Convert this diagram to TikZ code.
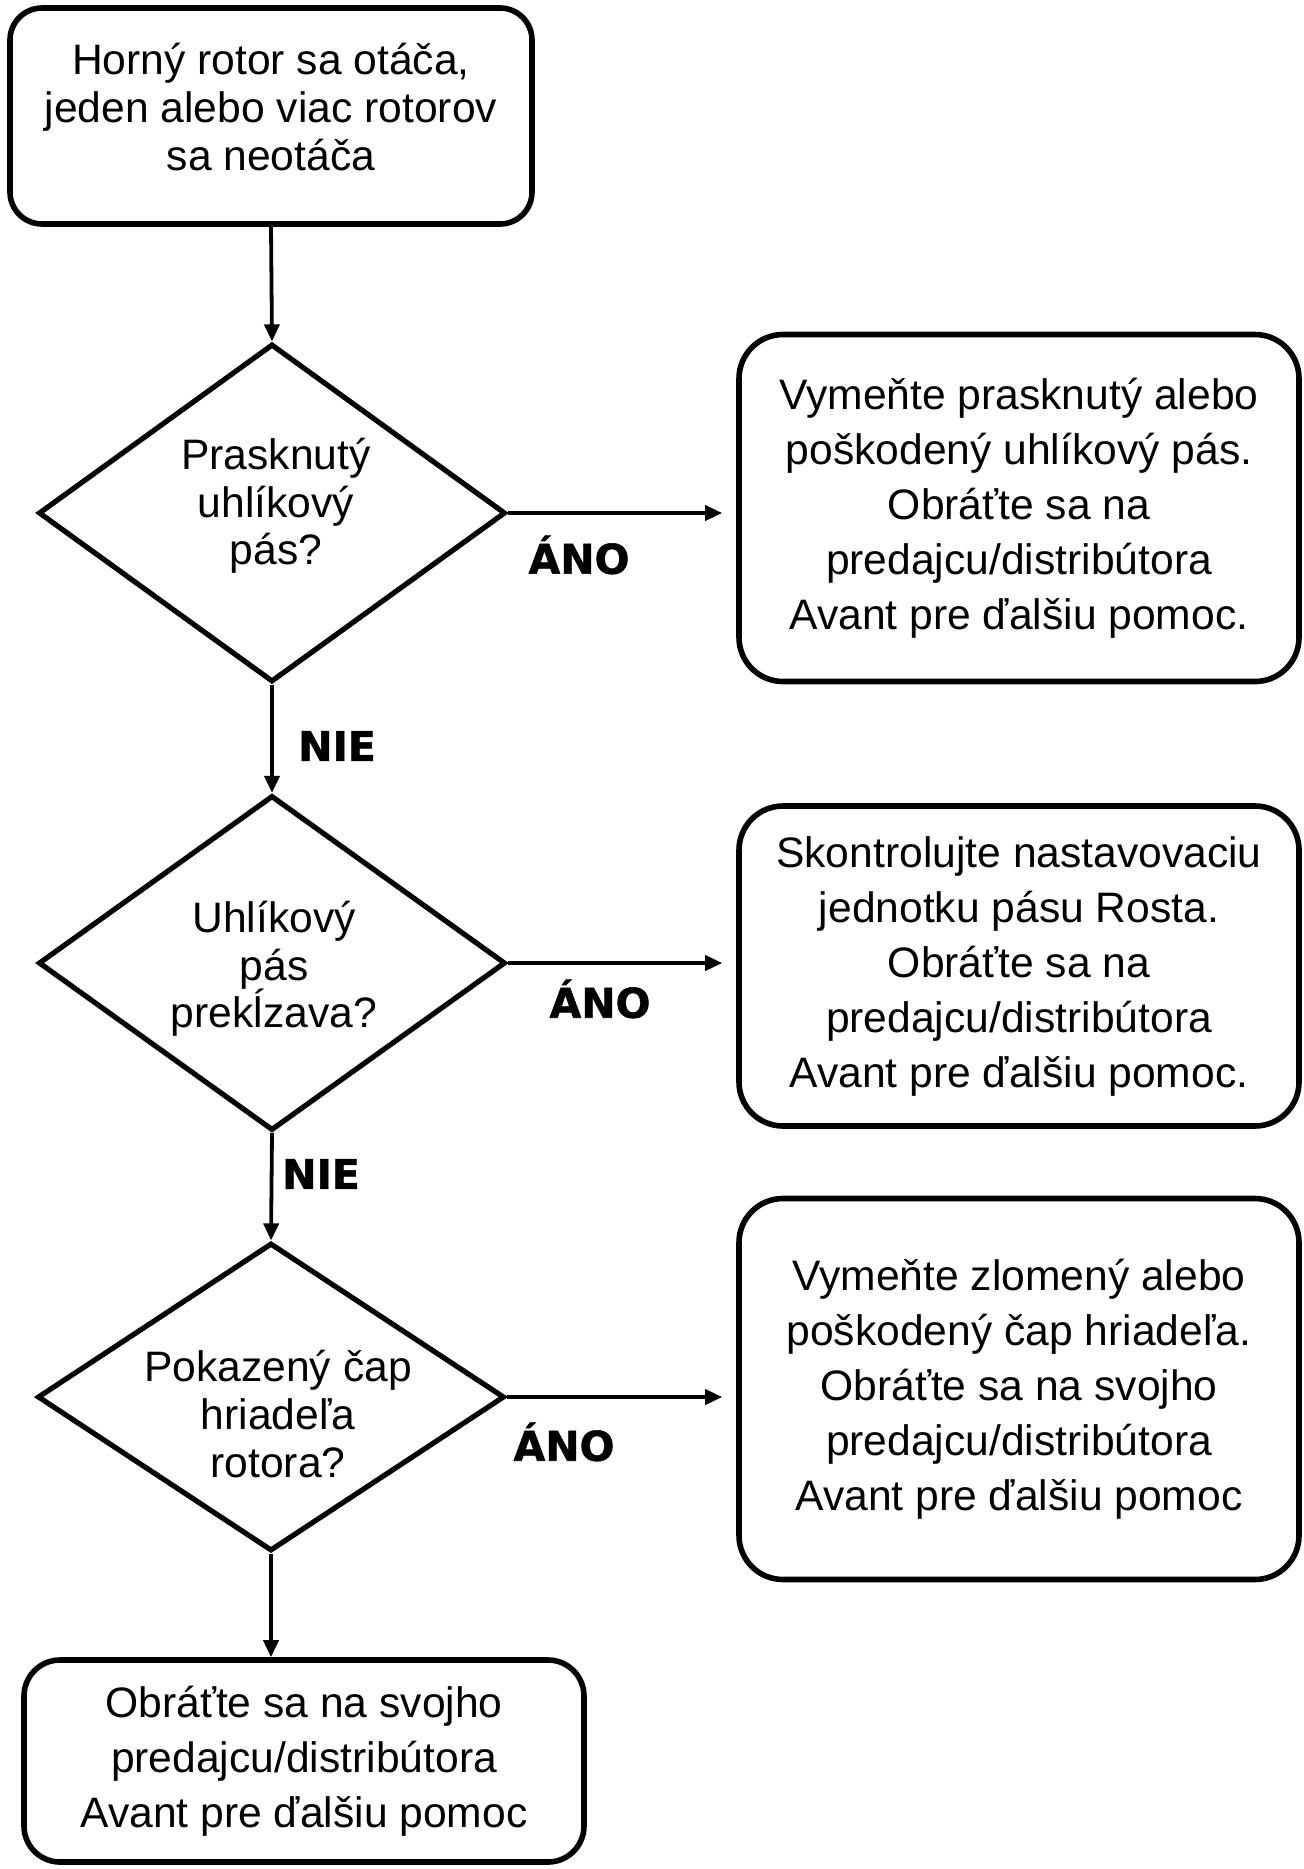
\documentclass[tikz,border=0pt]{standalone}
\usepackage{fontspec}
\setmainfont{Liberation Sans}
\newfontfamily\lblfont{DejaVu Sans}[BoldFeatures={FakeBold=1.3}]
\usetikzlibrary{positioning,arrows.meta,shapes.geometric}

\begin{document}
\begin{tikzpicture}[x=0.5pt,y=-0.5pt,font=\fontsize{21.3}{27.5}\selectfont,
  box/.style={draw,line width=2.8pt,rounded corners=22pt,align=center,inner sep=0pt},
  dia/.style={draw,diamond,line width=2.6pt,inner sep=0pt,minimum width=233.5pt},
  qtxt/.style={align=center,font=\fontsize{21.3}{23.8}\selectfont},
  ans/.style={font=\lblfont\bfseries\fontsize{20.5}{24}\selectfont},
  flow/.style={line width=1.9pt,-{Triangle[length=8.5pt,width=7.5pt]}}]
  \useasboundingbox (0,0) rectangle (1304,1869);

  % --- start ---
  \node[box,rounded corners=16pt,minimum width=261pt,minimum height=108pt] (start) at (271,116) {};
  \node[qtxt] (tstart) at (271,107) {Horný rotor sa otáča,\\jeden alebo viac rotorov\\sa neotáča};

  % --- questions ---
  \node[dia,minimum height=169pt] (q1) at (272,513) {};
  \node[qtxt] (tq1) at (276,506) {Prasknutý\\uhlíkový\\pás?};
  \node[dia,minimum height=167.5pt] (q2) at (272,963) {};
  \node[qtxt] (tq2) at (274,969) {Uhlíkový\\pás\\prekĺzava?};
  \node[dia,minimum height=154pt] (q3) at (271,1397) {};
  \node[qtxt] (tq3) at (278,1414) {Pokazený čap\\hriadeľa\\rotora?};

  % --- answers ---
  \node[box,minimum width=280pt,minimum height=173.5pt] (fix1) at (1019,508)
    {Vymeňte prasknutý alebo\\poškodený uhlíkový pás.\\Obráťte sa na\\predajcu/distribútora\\Avant pre ďalšiu pomoc.};
  \node[box,minimum width=280pt,minimum height=160pt] (fix2) at (1019,966)
    {Skontrolujte nastavovaciu\\jednotku pásu Rosta.\\Obráťte sa na\\predajcu/distribútora\\Avant pre ďalšiu pomoc.};
  \node[box,minimum width=280pt,minimum height=190.5pt] (fix3) at (1019,1389)
    {Vymeňte zlomený alebo\\poškodený čap hriadeľa.\\Obráťte sa na svojho\\predajcu/distribútora\\Avant pre ďalšiu pomoc};
  \node[box,rounded corners=18pt,minimum width=280pt,minimum height=101pt] (dealer) at (304,1761)
    {Obráťte sa na svojho\\predajcu/distribútora\\Avant pre ďalšiu pomoc};

  % --- connectors ---
  \draw[flow] (start.south) -- (q1.north);
  \draw[flow] (q1.south) -- (q2.north);
  \draw[flow] (q2.south) -- (q3.north);
  \draw[flow] (q3.south) -- (q3.south |- dealer.north);
  \draw[flow,shorten >=7pt] (q1.east) -- (q1.east -| fix1.west);
  \draw[flow,shorten >=7pt] (q2.east) -- (q2.east -| fix2.west);
  \draw[flow,shorten >=7pt] (q3.east) -- (q3.east -| fix3.west);

  % --- labels ---
  \node[ans] (yes1) at (579,555) {ÁNO};
  \node[ans] (no1) at (337,746) {NIE};
  \node[ans] (yes2) at (600,999) {ÁNO};
  \node[ans] (no2) at (321,1174) {NIE};
  \node[ans] (yes3) at (564,1442) {ÁNO};
\end{tikzpicture}
\end{document}
